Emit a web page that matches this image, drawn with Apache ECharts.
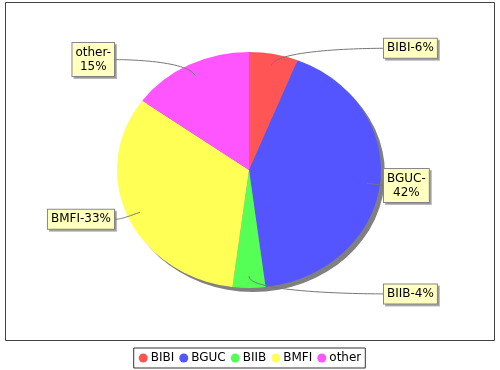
<!DOCTYPE html>
<html><head><meta charset="utf-8">
<script src="https://cdn.jsdelivr.net/npm/echarts@6/dist/echarts.min.js"></script>
<style>html,body{margin:0;padding:0;background:#fff}#c{width:500px;height:370px}</style>
</head><body><div id="c"></div>
<script>
var categories = ['BIBI', 'BGUC', 'BIIB', 'BMFI', 'other'];
var values = [6, 42, 4, 33, 15];
var colors = ['#FF5555', '#5555FF', '#55FF55', '#FFFF55', '#FF55FF'];
var wrapped = ['BGUC', 'other'];

// layout of the (elliptical) pie and its labels
var CX = 249, CY = 170, RX = 132, RY = 118;
var LINK_DEPTH = 0.9, LINK_MARGIN = 1.05, LABEL_EDGE = 134, SHADOW = 4;

var total = values.reduce(function (a, b) { return a + b; }, 0);
function midAngle(i) {
  var cum = 0;
  for (var j = 0; j < i; j++) cum += values[j];
  return 2 * Math.PI * (cum + values[i] / 2) / total;
}
function cubic(p0, p1, p2, p3, n) {
  var pts = [];
  for (var k = 0; k <= n; k++) {
    var t = k / n, u = 1 - t;
    pts.push([
      u*u*u*p0[0] + 3*u*u*t*p1[0] + 3*u*t*t*p2[0] + t*t*t*p3[0],
      u*u*u*p0[1] + 3*u*u*t*p1[1] + 3*u*t*t*p2[1] + t*t*t*p3[1]
    ]);
  }
  return pts;
}

var chart = echarts.init(document.getElementById('c'), null, {renderer: 'canvas'});
var font = 'DejaVu Sans';
chart.setOption({
  animation: false,
  textStyle: {fontFamily: font},
  graphic: [{
    type: 'rect', z: -10,
    shape: {x: 5.5, y: 2.5, width: 489, height: 338},
    style: {fill: '#fff', stroke: '#444', lineWidth: 1}
  }],
  legend: {
    bottom: 2, left: 'center',
    data: categories,
    icon: 'circle', itemWidth: 9, itemHeight: 9, itemGap: 5,
    borderColor: '#333', borderWidth: 1, padding: [4, 4, 4, 5],
    textStyle: {fontFamily: font, fontSize: 12, color: '#000', padding: [0, 0, 0, -2]}
  },
  series: [{
    type: 'pie', silent: true, z: 1,
    center: [CX + SHADOW, CY + SHADOW], radius: RX,
    label: {show: false}, labelLine: {show: false},
    itemStyle: {color: '#808080'},
    data: [{value: total, name: '_shadow'}]
  }, {
    type: 'pie', z: 2,
    center: [CX, CY], radius: RX,
    startAngle: 90, clockwise: true,
    data: categories.map(function (n, i) {
      return {name: n, value: values[i], itemStyle: {color: colors[i]}};
    }),
    label: {
      show: true, position: 'outer',
      formatter: function (p) {
        return p.name + '-' + (wrapped.indexOf(p.name) >= 0 ? '\n' : '') + Math.round(p.percent) + '%';
      },
      fontFamily: font, fontSize: 12, color: '#000', lineHeight: 14,
      backgroundColor: '#FFFFC0', borderColor: '#888', borderWidth: 1,
      padding: [3, 3, 2, 3],
      shadowColor: 'rgba(128,128,128,0.55)', shadowOffsetX: 2, shadowOffsetY: 2, shadowBlur: 0
    },
    labelLine: {show: true, length: 10, length2: 10, smooth: false, lineStyle: {color: '#777', width: 1}},
    labelLayout: function (p) {
      var a = midAngle(p.dataIndex), s = Math.sin(a), c = Math.cos(a);
      var right = s >= -1e-9;
      var w = p.labelRect.width;
      var ty = CY - c * RY * LINK_MARGIN;
      var tx = right ? CX + LABEL_EDGE : CX - LABEL_EDGE;
      var ax = right ? tx - 3 : tx + 3;
      var elbow = [CX + s * RX * LINK_MARGIN, ty];
      var link = [CX + s * RX * LINK_DEPTH, CY - c * RY * LINK_DEPTH];
      return {
        x: right ? tx + w / 2 : tx - w / 2, y: ty,
        align: 'center', verticalAlign: 'middle',
        labelLinePoints: cubic([tx, ty], [ax, ty], elbow, link, 30)
      };
    }
  }]
});

// squash the pie sectors into the ellipse of the reference; keep link lines on top
var zr = chart.getZr();
zr.storage.getDisplayList(true).forEach(function (el) {
  if (el.type === 'sector' && el.shape) {
    el.originX = el.shape.cx;
    el.originY = el.shape.cy;
    el.scaleY = RY / RX;
    el.markRedraw();
    var guide = el.getTextGuideLine && el.getTextGuideLine();
    if (guide) {
      guide.z = el.z;
      guide.z2 = 1000;
      guide.markRedraw();
    }
  }
});
zr.refreshImmediately();
</script></body></html>
